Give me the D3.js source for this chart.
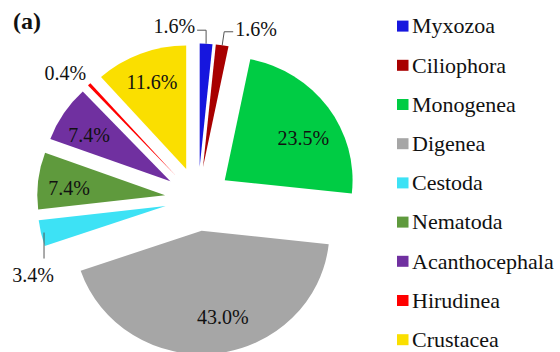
<!DOCTYPE html>
<html>
<head>
<meta charset="utf-8">
<script src="https://cdn.jsdelivr.net/npm/d3@7"></script>
<style>
  html, body { margin: 0; padding: 0; background: #fff; }
  svg { display: block; }
  svg text { font-family: 'Liberation Serif', 'Times New Roman', 'DejaVu Serif', serif; }
</style>
</head>
<body>
<svg id="chart" width="560" height="352"></svg>
<script>
// Parasite groups and their share of recorded species (%)
const categories = ["Myxozoa", "Ciliophora", "Monogenea", "Digenea", "Cestoda",
                    "Nematoda", "Acanthocephala", "Hirudinea", "Crustacea"];
const shares = [1.6, 1.6, 23.5, 43.0, 3.4, 7.4, 7.4, 0.4, 11.6];
const colors = ["#1616DE", "#A80000", "#00CC44", "#A6A6A6", "#3DE2F5",
                "#5F9A3D", "#7030A0", "#FF0000", "#FADF00"];
const panelTitle = "(a)";

// ---- layout ----
const cx = 198, cy = 199;      // pie centre
const sx = 1.035;              // slight horizontal stretch of the pie
const R = 123.5;               // slice radius
const explode = 32;            // distance every slice is pulled out
const labelR = 89;             // radius of in-slice labels
const serif = "'Liberation Serif', 'Times New Roman', 'DejaVu Serif', serif";

// how each value label is placed (turn in degrees, dr = extra radius)
const labelPlacement = {
  Myxozoa:        { kind: "leader", side: -1 },
  Ciliophora:     { kind: "leader", side: 1 },
  Monogenea:      { kind: "inside", turn: 7, dr: -2 },
  Digenea:        { kind: "inside", turn: -7, dr: 0 },
  Cestoda:        { kind: "drop" },
  Nematoda:       { kind: "inside", turn: -2.5, dr: 4 },
  Acanthocephala: { kind: "inside", turn: -3, dr: 2 },
  Hirudinea:      { kind: "outside" },
  Crustacea:      { kind: "inside", turn: 0, dr: 4 }
};

const svg = d3.select("#chart").attr("font-family", serif);
const fmt = v => d3.format(".1f")(v) + "%";

const pie = d3.pie().sort(null).value(d => d.value);
const arcs = pie(categories.map((c, i) => ({ name: c, value: shares[i], color: colors[i] })));
const arc = d3.arc().innerRadius(0).outerRadius(R);

const mid = a => (a.startAngle + a.endAngle) / 2;
// page position of a point at (angle, radius) inside an exploded slice
function pos(a, angle, rad) {
  const m = mid(a);
  const ux = explode * Math.sin(m) + rad * Math.sin(angle);
  const uy = -explode * Math.cos(m) - rad * Math.cos(angle);
  return [cx + sx * ux, cy + uy];
}

// slices
const pieG = svg.append("g").attr("transform", `translate(${cx},${cy}) scale(${sx},1)`);
pieG.selectAll("path.slice")
  .data(arcs)
  .join("path")
  .attr("class", "slice")
  .attr("transform", a => `translate(${explode * Math.sin(mid(a))},${-explode * Math.cos(mid(a))})`)
  .attr("d", arc)
  .attr("fill", a => a.data.color);

// value labels
const labG = svg.append("g").attr("font-size", 20).attr("fill", "#111");
const leaderColor = "#555";

arcs.forEach(a => {
  const p = labelPlacement[a.data.name];
  const text = fmt(a.data.value);
  const m = mid(a);
  if (p.kind === "inside") {
    const [x, y] = pos(a, m + p.turn * Math.PI / 180, labelR + p.dr);
    labG.append("text").attr("x", x).attr("y", y).attr("dy", "0.35em")
      .attr("text-anchor", "middle").text(text);
  } else if (p.kind === "leader") {
    const [x0, y0] = pos(a, m, R);
    const x1 = p.side < 0 ? x0 : x0 + 2;
    const y1 = y0 - 13.5;
    const x2 = x1 + p.side * 9;
    labG.append("path")
      .attr("d", `M${x0},${y0}L${x1},${y1}L${x2},${y1}`)
      .attr("fill", "none").attr("stroke", leaderColor).attr("stroke-width", 1);
    labG.append("text")
      .attr("x", x2 + p.side * 2).attr("y", y1 + (p.side < 0 ? 3 : 4))
      .attr("text-anchor", p.side < 0 ? "end" : "start").text(text);
  } else if (p.kind === "drop") {
    const [x0, y0] = pos(a, m, R - 3);
    const y1 = y0 + 26;
    labG.append("line")
      .attr("x1", x0).attr("y1", y0).attr("x2", x0).attr("y2", y1)
      .attr("stroke", leaderColor).attr("stroke-width", 1);
    labG.append("text").attr("x", x0 + 10).attr("y", y1 + 23)
      .attr("text-anchor", "end").text(text);
  } else {
    const [x0, y0] = pos(a, m, R);
    labG.append("text").attr("x", x0 - 3).attr("y", y0 - 4)
      .attr("text-anchor", "end").text(text);
  }
});

// panel tag
svg.append("text")
  .attr("x", 13).attr("y", 29)
  .attr("font-size", 24).attr("font-weight", "bold").attr("fill", "#111")
  .text(panelTitle);

// legend
const ly = d3.scaleBand().domain(categories).range([6.5, 359.3]);
const legend = svg.append("g").attr("font-size", 22).attr("fill", "#111");
const rows = legend.selectAll("g.row")
  .data(arcs)
  .join("g")
  .attr("class", "row")
  .attr("transform", a => `translate(0,${ly(a.data.name) + ly.bandwidth() / 2})`);
rows.append("rect")
  .attr("x", 397).attr("y", -5.5).attr("width", 11.5).attr("height", 11)
  .attr("fill", a => a.data.color);
rows.append("text")
  .attr("x", 412).attr("y", 0).attr("dy", "0.33em")
  .text(a => a.data.name);
</script>
</body>
</html>
